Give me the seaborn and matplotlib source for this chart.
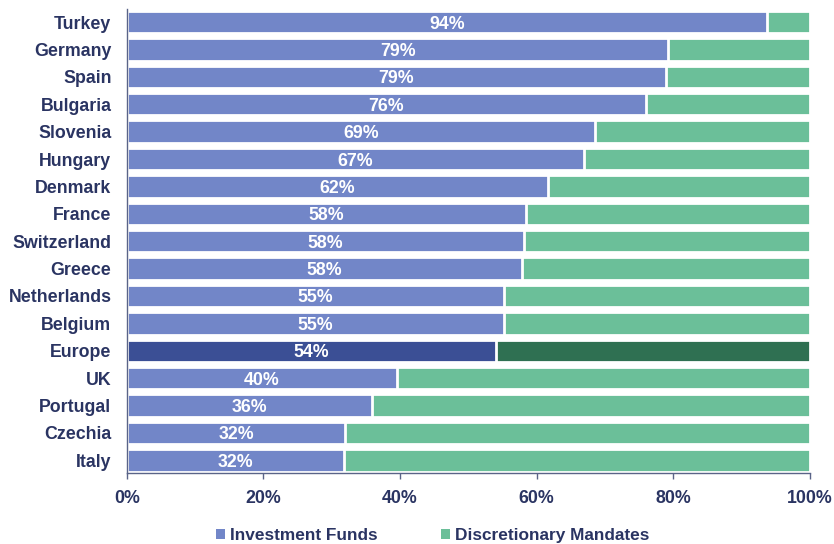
import matplotlib
matplotlib.use("Agg")
import matplotlib.pyplot as plt
import seaborn as sns
import pandas as pd
from matplotlib.patches import Patch

countries = ["Turkey", "Germany", "Spain", "Bulgaria", "Slovenia", "Hungary", "Denmark",
             "France", "Switzerland", "Greece", "Netherlands", "Belgium", "Europe", "UK",
             "Portugal", "Czechia", "Italy"]
funds = [93.7, 79.3, 78.9, 76.0, 68.6, 66.9, 61.6, 58.4, 58.1, 57.9, 55.3, 55.3, 54.0,
         39.6, 35.9, 32.0, 31.8]
labels = ["94%", "79%", "79%", "76%", "69%", "67%", "62%", "58%", "58%", "58%", "55%",
          "55%", "54%", "40%", "36%", "32%", "32%"]
mandates = [100 - v for v in funds]
xticks = [0, 20, 40, 60, 80, 100]
xticklabels = ["0%", "20%", "40%", "60%", "80%", "100%"]
series = ["Investment Funds", "Discretionary Mandates"]

BLUE, GREEN = "#7286C8", "#6BBF99"
DBLUE, DGREEN = "#3B4F95", "#2F7052"
NAVY = "#2A3462"
FS = 12.8

sns.set_theme(style="white")
plt.rcParams["font.family"] = ["Liberation Sans", "DejaVu Sans"]

df = pd.DataFrame({"country": countries, "funds": funds, "mandates": mandates})
df["total"] = df["funds"] + df["mandates"]

fig = plt.figure(figsize=(8.34, 5.44), dpi=100)
ax = fig.add_axes([0.152, 0.1296, 0.819, 0.854])

green_pal = [DGREEN if c == "Europe" else GREEN for c in countries]
blue_pal = [DBLUE if c == "Europe" else BLUE for c in countries]

sns.barplot(data=df, y="country", x="total", hue="country", palette=green_pal,
            orient="h", width=0.82, legend=False, ax=ax, saturation=1,
            edgecolor="white", linewidth=2.0)
sns.barplot(data=df, y="country", x="funds", hue="country", palette=blue_pal,
            orient="h", width=0.82, legend=False, ax=ax, saturation=1,
            edgecolor="white", linewidth=2.0)

for i, (v, lab) in enumerate(zip(funds, labels)):
    ax.text(v / 2, i, lab, ha="center", va="center_baseline", color="white",
            fontsize=FS, fontweight="bold")

ax.set_xlim(0, 100)
ax.set_ylim(16.48, -0.48)
ax.set_xticks(xticks)
ax.set_xticklabels(xticklabels)
ax.set_xlabel("")
ax.set_ylabel("")
for s in ["top", "right"]:
    ax.spines[s].set_visible(False)
for s in ["left", "bottom"]:
    ax.spines[s].set_visible(True)
    ax.spines[s].set_color("#5A6488")
    ax.spines[s].set_linewidth(1.0)
ax.tick_params(axis="x", bottom=True, length=4, width=1, color="#5A6488",
               labelsize=FS, labelcolor=NAVY, pad=8)
ax.tick_params(axis="y", left=False, length=0, labelsize=FS, labelcolor=NAVY, pad=11)
for t in ax.get_xticklabels() + ax.get_yticklabels():
    t.set_fontweight("bold")

handles = [Patch(facecolor=BLUE, edgecolor="none", label=series[0]),
           Patch(facecolor=GREEN, edgecolor="none", label=series[1])]
leg = fig.legend(handles=handles, loc="center", bbox_to_anchor=(433 / 834, 1 - 535.5 / 544),
                 ncol=2, frameon=False, handlelength=0.5, handleheight=0.5,
                 handletextpad=0.3, columnspacing=3.7,
                 prop={"size": 12.4, "weight": "bold"})
for t in leg.get_texts():
    t.set_color(NAVY)

fig.savefig("out.png", dpi=100)
